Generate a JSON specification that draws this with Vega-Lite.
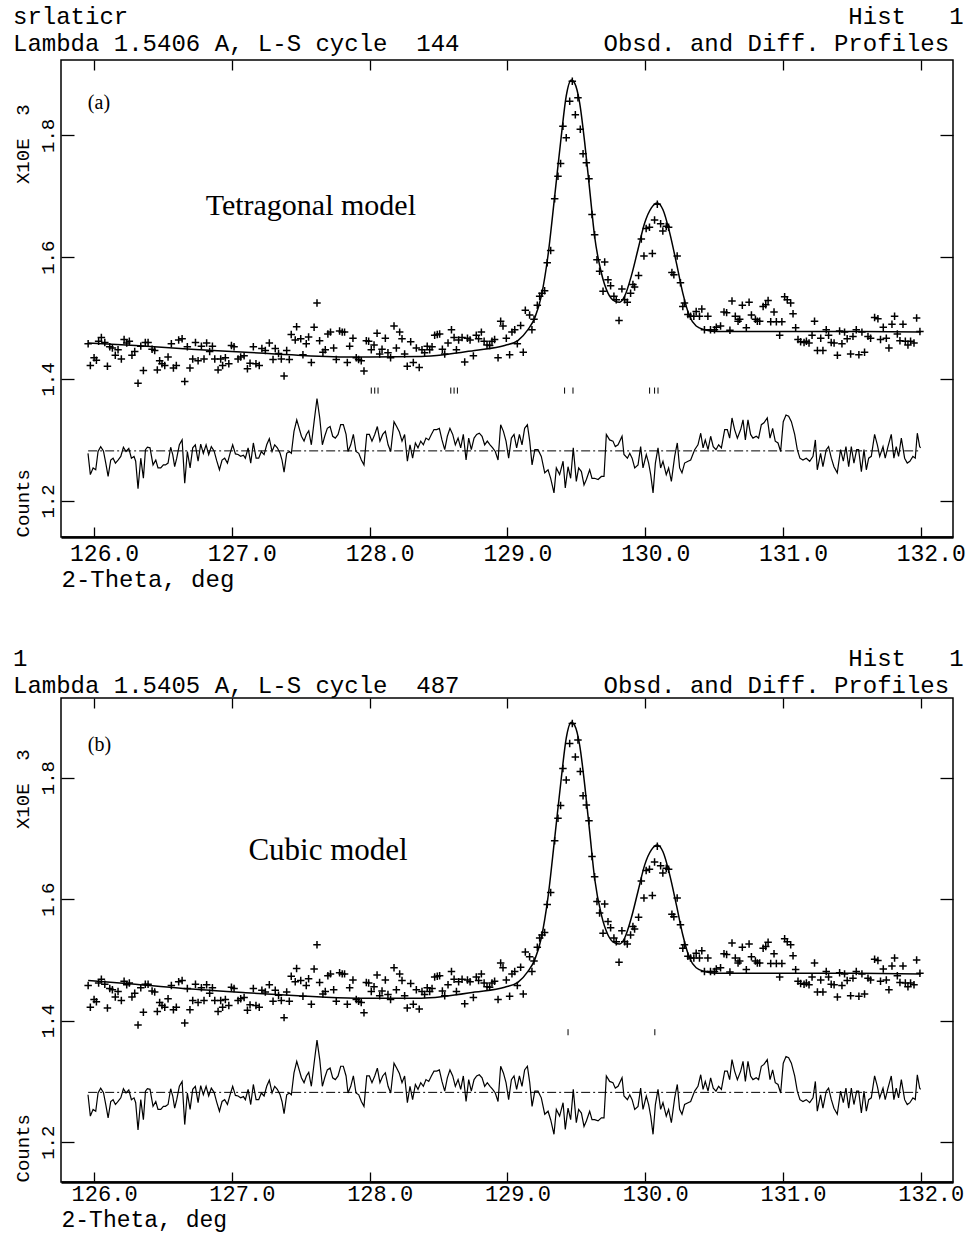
{
"$schema": "https://vega.github.io/schema/vega-lite/v6.json",
"background": "white",
"padding": {"left": 12, "top": 4, "right": 4, "bottom": 0},
"spacing": 54,
"config": {
 "view": {"stroke": "black", "strokeWidth": 1.5},
 "axis": {"grid": false, "domain": false, "tickColor": "black", "tickWidth": 1.3, "labelColor": "black", "titleColor": "black", "labelFont": "Liberation Mono", "titleFont": "Liberation Mono", "titleFontWeight": "normal", "labelFlush": false, "labelOverlap": false},
 "title": {"font": "Liberation Mono", "fontSize": 24, "fontWeight": "normal", "color": "black", "anchor": "start", "frame": "bounds", "lineHeight": 27, "offset": 3}
},
"datasets": {
 "obs": [
{"x":125.957,"y":1.458},{"x":125.973,"y":1.422},{"x":126.000,"y":1.435},{"x":126.017,"y":1.431},{"x":126.033,"y":1.462},{"x":126.053,"y":1.468},{"x":126.078,"y":1.460},{"x":126.097,"y":1.421},{"x":126.114,"y":1.453},{"x":126.133,"y":1.451},{"x":126.154,"y":1.439},{"x":126.174,"y":1.448},{"x":126.198,"y":1.433},{"x":126.218,"y":1.465},{"x":126.237,"y":1.459},{"x":126.256,"y":1.462},{"x":126.275,"y":1.439},{"x":126.295,"y":1.445},{"x":126.319,"y":1.393},{"x":126.339,"y":1.454},{"x":126.358,"y":1.414},{"x":126.372,"y":1.460},{"x":126.392,"y":1.460},{"x":126.421,"y":1.449},{"x":126.440,"y":1.447},{"x":126.459,"y":1.415},{"x":126.476,"y":1.430},{"x":126.493,"y":1.425},{"x":126.513,"y":1.422},{"x":126.537,"y":1.436},{"x":126.561,"y":1.458},{"x":126.576,"y":1.418},{"x":126.597,"y":1.422},{"x":126.614,"y":1.464},{"x":126.639,"y":1.466},{"x":126.658,"y":1.396},{"x":126.677,"y":1.453},{"x":126.696,"y":1.418},{"x":126.716,"y":1.433},{"x":126.736,"y":1.460},{"x":126.755,"y":1.430},{"x":126.779,"y":1.454},{"x":126.798,"y":1.433},{"x":126.817,"y":1.459},{"x":126.839,"y":1.445},{"x":126.859,"y":1.454},{"x":126.876,"y":1.433},{"x":126.900,"y":1.415},{"x":126.919,"y":1.433},{"x":126.933,"y":1.422},{"x":126.953,"y":1.435},{"x":126.978,"y":1.425},{"x":126.997,"y":1.455},{"x":127.016,"y":1.453},{"x":127.045,"y":1.433},{"x":127.064,"y":1.436},{"x":127.089,"y":1.438},{"x":127.113,"y":1.417},{"x":127.132,"y":1.426},{"x":127.156,"y":1.453},{"x":127.175,"y":1.425},{"x":127.199,"y":1.422},{"x":127.218,"y":1.450},{"x":127.243,"y":1.447},{"x":127.272,"y":1.459},{"x":127.299,"y":1.432},{"x":127.315,"y":1.450},{"x":127.339,"y":1.442},{"x":127.359,"y":1.433},{"x":127.379,"y":1.405},{"x":127.398,"y":1.447},{"x":127.417,"y":1.432},{"x":127.431,"y":1.473},{"x":127.460,"y":1.464},{"x":127.470,"y":1.486},
{"x":127.500,"y":1.466},{"x":127.516,"y":1.440},{"x":127.540,"y":1.458},{"x":127.557,"y":1.469},{"x":127.577,"y":1.427},{"x":127.597,"y":1.485},{"x":127.618,"y":1.525},{"x":127.637,"y":1.463},{"x":127.661,"y":1.444},{"x":127.678,"y":1.448},{"x":127.697,"y":1.474},{"x":127.716,"y":1.477},{"x":127.739,"y":1.451},{"x":127.758,"y":1.432},{"x":127.782,"y":1.479},{"x":127.801,"y":1.477},{"x":127.818,"y":1.477},{"x":127.838,"y":1.427},{"x":127.855,"y":1.454},{"x":127.879,"y":1.467},{"x":127.903,"y":1.435},{"x":127.920,"y":1.432},{"x":127.939,"y":1.430},{"x":127.959,"y":1.413},{"x":127.976,"y":1.463},{"x":127.993,"y":1.462},{"x":128.012,"y":1.448},{"x":128.032,"y":1.456},{"x":128.054,"y":1.475},{"x":128.073,"y":1.441},{"x":128.090,"y":1.449},{"x":128.114,"y":1.467},{"x":128.133,"y":1.443},{"x":128.152,"y":1.435},{"x":128.177,"y":1.487},{"x":128.194,"y":1.451},{"x":128.218,"y":1.477},{"x":128.235,"y":1.466},{"x":128.254,"y":1.441},{"x":128.273,"y":1.421},{"x":128.298,"y":1.461},{"x":128.317,"y":1.427},{"x":128.339,"y":1.451},{"x":128.360,"y":1.419},{"x":128.380,"y":1.448},{"x":128.399,"y":1.443},{"x":128.418,"y":1.454},{"x":128.436,"y":1.448},{"x":128.453,"y":1.453},{"x":128.472,"y":1.472},{"x":128.491,"y":1.473},{"x":128.508,"y":1.474},{"x":128.528,"y":1.449},{"x":128.545,"y":1.441},{"x":128.569,"y":1.459},{"x":128.594,"y":1.481},{"x":128.613,"y":1.468},{"x":128.630,"y":1.448},{"x":128.646,"y":1.464},{"x":128.671,"y":1.468},{"x":128.690,"y":1.428},{"x":128.710,"y":1.467},{"x":128.729,"y":1.464},{"x":128.753,"y":1.438},{"x":128.774,"y":1.472},{"x":128.791,"y":1.466},{"x":128.811,"y":1.477},{"x":128.831,"y":1.462},{"x":128.852,"y":1.456},{"x":128.871,"y":1.455},{"x":128.888,"y":1.462},{"x":128.907,"y":1.465},{"x":128.932,"y":1.435},{"x":128.951,"y":1.495},{"x":128.968,"y":1.487},{"x":128.992,"y":1.467},{"x":129.016,"y":1.440},{"x":129.033,"y":1.477},{"x":129.053,"y":1.481},{"x":129.072,"y":1.458},{"x":129.096,"y":1.488},{"x":129.115,"y":1.444},{"x":129.130,"y":1.513},
{"x":129.161,"y":1.505},{"x":129.178,"y":1.481},{"x":129.193,"y":1.498},{"x":129.217,"y":1.521},{"x":129.234,"y":1.536},{"x":129.251,"y":1.541},{"x":129.270,"y":1.545},{"x":129.289,"y":1.591},{"x":129.314,"y":1.611},{"x":129.343,"y":1.696},{"x":129.367,"y":1.733},{"x":129.386,"y":1.754},{"x":129.403,"y":1.815},{"x":129.427,"y":1.796},{"x":129.452,"y":1.856},{"x":129.471,"y":1.889},{"x":129.493,"y":1.834},{"x":129.512,"y":1.862},{"x":129.529,"y":1.810},{"x":129.549,"y":1.770},{"x":129.573,"y":1.755},{"x":129.592,"y":1.729},{"x":129.614,"y":1.670},{"x":129.633,"y":1.637},{"x":129.650,"y":1.596},{"x":129.669,"y":1.577},{"x":129.694,"y":1.544},{"x":129.706,"y":1.592},{"x":129.730,"y":1.563},{"x":129.749,"y":1.553},{"x":129.773,"y":1.536},{"x":129.790,"y":1.530},{"x":129.810,"y":1.496},{"x":129.831,"y":1.548},{"x":129.851,"y":1.530},{"x":129.870,"y":1.526},{"x":129.894,"y":1.541},{"x":129.911,"y":1.555},{"x":129.923,"y":1.551},{"x":129.952,"y":1.570},{"x":129.972,"y":1.630},{"x":129.991,"y":1.602},{"x":130.007,"y":1.647},{"x":130.031,"y":1.649},{"x":130.052,"y":1.606},{"x":130.068,"y":1.661},{"x":130.088,"y":1.687},{"x":130.112,"y":1.655},{"x":130.128,"y":1.643},{"x":130.153,"y":1.651},{"x":130.170,"y":1.649},{"x":130.194,"y":1.575},{"x":130.208,"y":1.571},{"x":130.232,"y":1.602},{"x":130.256,"y":1.558},{"x":130.273,"y":1.519},{"x":130.285,"y":1.525},{"x":130.310,"y":1.506},{"x":130.329,"y":1.503},{"x":130.353,"y":1.503},{"x":130.370,"y":1.511},{"x":130.394,"y":1.503},{"x":130.411,"y":1.515},{"x":130.430,"y":1.481},{"x":130.455,"y":1.503},{"x":130.474,"y":1.481},{"x":130.503,"y":1.481},
{"x":130.516,"y":1.485},{"x":130.547,"y":1.487},{"x":130.572,"y":1.510},{"x":130.591,"y":1.509},{"x":130.615,"y":1.480},{"x":130.630,"y":1.528},{"x":130.654,"y":1.503},{"x":130.674,"y":1.495},{"x":130.686,"y":1.498},{"x":130.705,"y":1.521},{"x":130.734,"y":1.484},{"x":130.754,"y":1.526},{"x":130.771,"y":1.505},{"x":130.800,"y":1.498},{"x":130.814,"y":1.495},{"x":130.831,"y":1.495},{"x":130.856,"y":1.519},{"x":130.875,"y":1.522},{"x":130.892,"y":1.529},{"x":130.911,"y":1.494},{"x":130.935,"y":1.510},{"x":130.952,"y":1.494},{"x":130.976,"y":1.472},{"x":130.992,"y":1.494},{"x":131.012,"y":1.535},{"x":131.031,"y":1.530},{"x":131.056,"y":1.525},{"x":131.073,"y":1.507},{"x":131.092,"y":1.484},{"x":131.109,"y":1.465},{"x":131.128,"y":1.461},{"x":131.153,"y":1.460},{"x":131.170,"y":1.462},{"x":131.189,"y":1.459},{"x":131.211,"y":1.472},{"x":131.229,"y":1.495},{"x":131.250,"y":1.447},{"x":131.274,"y":1.467},{"x":131.290,"y":1.447},{"x":131.314,"y":1.481},{"x":131.331,"y":1.472},{"x":131.350,"y":1.460},{"x":131.371,"y":1.459},{"x":131.395,"y":1.439},{"x":131.411,"y":1.479},{"x":131.428,"y":1.458},{"x":131.447,"y":1.477},{"x":131.466,"y":1.466},{"x":131.491,"y":1.441},{"x":131.508,"y":1.470},{"x":131.532,"y":1.481},{"x":131.551,"y":1.440},{"x":131.573,"y":1.477},{"x":131.592,"y":1.444},{"x":131.617,"y":1.470},{"x":131.636,"y":1.467},{"x":131.665,"y":1.501},{"x":131.689,"y":1.499},{"x":131.708,"y":1.465},{"x":131.728,"y":1.485},{"x":131.750,"y":1.467},{"x":131.769,"y":1.451},{"x":131.791,"y":1.490},{"x":131.810,"y":1.503},{"x":131.830,"y":1.474},{"x":131.849,"y":1.463},{"x":131.871,"y":1.490},{"x":131.888,"y":1.462},{"x":131.907,"y":1.456},{"x":131.926,"y":1.462},{"x":131.951,"y":1.459},{"x":131.970,"y":1.500},{"x":131.994,"y":1.478}
 ],
 "calcA": [
{"x":125.957,"y":1.459},{"x":126.3,"y":1.455},{"x":126.705,"y":1.449},{"x":127.1,"y":1.444},{"x":127.48,"y":1.439},{"x":127.9,"y":1.436},{"x":128.376,"y":1.437},{"x":128.545,"y":1.440},{"x":128.762,"y":1.447},{"x":128.98,"y":1.455},{"x":129.076,"y":1.463},{"x":129.149,"y":1.481},{"x":129.198,"y":1.500},{"x":129.246,"y":1.536},{"x":129.294,"y":1.602},{"x":129.343,"y":1.700},{"x":129.391,"y":1.799},{"x":129.427,"y":1.865},{"x":129.464,"y":1.891},{"x":129.488,"y":1.886},{"x":129.524,"y":1.854},{"x":129.561,"y":1.788},{"x":129.597,"y":1.711},{"x":129.633,"y":1.634},{"x":129.682,"y":1.574},{"x":129.730,"y":1.541},{"x":129.778,"y":1.528},{"x":129.815,"y":1.526},{"x":129.851,"y":1.536},{"x":129.899,"y":1.569},{"x":129.948,"y":1.613},{"x":129.996,"y":1.656},{"x":130.045,"y":1.681},{"x":130.088,"y":1.689},{"x":130.129,"y":1.678},{"x":130.178,"y":1.640},{"x":130.226,"y":1.591},{"x":130.273,"y":1.541},{"x":130.322,"y":1.503},{"x":130.370,"y":1.487},{"x":130.431,"y":1.481},{"x":130.528,"y":1.478},{"x":131.0,"y":1.478},{"x":131.5,"y":1.478},{"x":132.0,"y":1.477}
 ],
 "calcB": [
{"x":125.957,"y":1.466},{"x":126.3,"y":1.460},{"x":126.705,"y":1.452},{"x":127.1,"y":1.446},{"x":127.48,"y":1.441},{"x":127.9,"y":1.437},{"x":128.376,"y":1.437},{"x":128.545,"y":1.440},{"x":128.762,"y":1.447},{"x":128.98,"y":1.455},{"x":129.076,"y":1.463},{"x":129.149,"y":1.481},{"x":129.198,"y":1.500},{"x":129.246,"y":1.536},{"x":129.294,"y":1.602},{"x":129.343,"y":1.700},{"x":129.391,"y":1.799},{"x":129.427,"y":1.865},{"x":129.464,"y":1.891},{"x":129.488,"y":1.886},{"x":129.524,"y":1.854},{"x":129.561,"y":1.788},{"x":129.597,"y":1.711},{"x":129.633,"y":1.634},{"x":129.682,"y":1.574},{"x":129.730,"y":1.541},{"x":129.778,"y":1.528},{"x":129.815,"y":1.526},{"x":129.851,"y":1.536},{"x":129.899,"y":1.569},{"x":129.948,"y":1.613},{"x":129.996,"y":1.656},{"x":130.045,"y":1.681},{"x":130.088,"y":1.689},{"x":130.129,"y":1.678},{"x":130.178,"y":1.640},{"x":130.226,"y":1.591},{"x":130.273,"y":1.541},{"x":130.322,"y":1.503},{"x":130.370,"y":1.487},{"x":130.431,"y":1.481},{"x":130.528,"y":1.478},{"x":131.0,"y":1.478},{"x":131.5,"y":1.478},{"x":132.0,"y":1.477}
 ],
 "diffA": [
{"x":125.956,"y":1.278},{"x":125.973,"y":1.243},{"x":125.993,"y":1.254},{"x":126.012,"y":1.251},{"x":126.029,"y":1.281},{"x":126.048,"y":1.289},{"x":126.068,"y":1.282},{"x":126.085,"y":1.262},{"x":126.102,"y":1.240},{"x":126.121,"y":1.267},{"x":126.138,"y":1.270},{"x":126.155,"y":1.262},{"x":126.174,"y":1.267},{"x":126.194,"y":1.273},{"x":126.213,"y":1.288},{"x":126.232,"y":1.281},{"x":126.252,"y":1.286},{"x":126.271,"y":1.270},{"x":126.290,"y":1.273},{"x":126.302,"y":1.265},{"x":126.319,"y":1.220},{"x":126.339,"y":1.270},{"x":126.358,"y":1.237},{"x":126.373,"y":1.284},{"x":126.387,"y":1.288},{"x":126.406,"y":1.287},{"x":126.428,"y":1.259},{"x":126.448,"y":1.267},{"x":126.464,"y":1.254},{"x":126.484,"y":1.254},{"x":126.503,"y":1.259},{"x":126.518,"y":1.259},{"x":126.537,"y":1.262},{"x":126.556,"y":1.288},{"x":126.571,"y":1.276},{"x":126.585,"y":1.256},{"x":126.600,"y":1.270},{"x":126.619,"y":1.292},{"x":126.639,"y":1.300},{"x":126.658,"y":1.229},{"x":126.677,"y":1.281},{"x":126.697,"y":1.254},{"x":126.716,"y":1.287},{"x":126.735,"y":1.292},{"x":126.755,"y":1.265},{"x":126.774,"y":1.293},{"x":126.793,"y":1.278},{"x":126.813,"y":1.292},{"x":126.832,"y":1.276},{"x":126.851,"y":1.289},{"x":126.871,"y":1.282},{"x":126.890,"y":1.266},{"x":126.910,"y":1.251},{"x":126.929,"y":1.267},{"x":126.948,"y":1.270},{"x":126.968,"y":1.262},{"x":126.987,"y":1.278},{"x":127.006,"y":1.292},{"x":127.026,"y":1.277},{"x":127.045,"y":1.276},{"x":127.064,"y":1.273},{"x":127.084,"y":1.275},{"x":127.098,"y":1.270},{"x":127.118,"y":1.287},{"x":127.137,"y":1.262},{"x":127.156,"y":1.295},{"x":127.176,"y":1.270},{"x":127.195,"y":1.270},{"x":127.214,"y":1.281},{"x":127.234,"y":1.276},{"x":127.253,"y":1.292},{"x":127.272,"y":1.302},{"x":127.292,"y":1.281},{"x":127.311,"y":1.292},{"x":127.330,"y":1.287},{"x":127.350,"y":1.278},{"x":127.364,"y":1.267},{"x":127.379,"y":1.247},{"x":127.398,"y":1.278},{"x":127.418,"y":1.281},{"x":127.432,"y":1.278},{"x":127.451,"y":1.314},{"x":127.471,"y":1.333},
{"x":127.505,"y":1.306},{"x":127.524,"y":1.298},{"x":127.541,"y":1.309},{"x":127.558,"y":1.315},{"x":127.577,"y":1.292},{"x":127.597,"y":1.330},{"x":127.618,"y":1.368},{"x":127.638,"y":1.336},{"x":127.657,"y":1.292},{"x":127.674,"y":1.306},{"x":127.693,"y":1.319},{"x":127.713,"y":1.322},{"x":127.732,"y":1.306},{"x":127.751,"y":1.303},{"x":127.771,"y":1.309},{"x":127.790,"y":1.325},{"x":127.809,"y":1.325},{"x":127.829,"y":1.309},{"x":127.843,"y":1.281},{"x":127.863,"y":1.292},{"x":127.882,"y":1.309},{"x":127.901,"y":1.281},{"x":127.921,"y":1.278},{"x":127.940,"y":1.267},{"x":127.959,"y":1.259},{"x":127.979,"y":1.309},{"x":127.998,"y":1.309},{"x":128.017,"y":1.298},{"x":128.037,"y":1.309},{"x":128.056,"y":1.322},{"x":128.075,"y":1.298},{"x":128.095,"y":1.309},{"x":128.114,"y":1.314},{"x":128.134,"y":1.292},{"x":128.153,"y":1.281},{"x":128.177,"y":1.330},{"x":128.196,"y":1.322},{"x":128.216,"y":1.313},{"x":128.235,"y":1.298},{"x":128.254,"y":1.309},{"x":128.274,"y":1.265},{"x":128.293,"y":1.292},{"x":128.312,"y":1.270},{"x":128.332,"y":1.295},{"x":128.351,"y":1.287},{"x":128.371,"y":1.298},{"x":128.390,"y":1.292},{"x":128.409,"y":1.303},{"x":128.429,"y":1.300},{"x":128.448,"y":1.309},{"x":128.467,"y":1.317},{"x":128.487,"y":1.317},{"x":128.506,"y":1.319},{"x":128.525,"y":1.300},{"x":128.545,"y":1.284},{"x":128.564,"y":1.306},{"x":128.583,"y":1.319},{"x":128.603,"y":1.309},{"x":128.622,"y":1.292},{"x":128.642,"y":1.303},{"x":128.661,"y":1.287},{"x":128.680,"y":1.309},{"x":128.700,"y":1.267},{"x":128.719,"y":1.303},{"x":128.738,"y":1.284},{"x":128.758,"y":1.303},{"x":128.777,"y":1.309},{"x":128.796,"y":1.311},{"x":128.816,"y":1.306},{"x":128.835,"y":1.292},{"x":128.854,"y":1.298},{"x":128.874,"y":1.292},{"x":128.893,"y":1.287},{"x":128.912,"y":1.281},{"x":128.932,"y":1.267},{"x":128.951,"y":1.325},{"x":128.971,"y":1.314},{"x":128.990,"y":1.298},{"x":129.009,"y":1.270},{"x":129.029,"y":1.303},{"x":129.048,"y":1.309},{"x":129.067,"y":1.287},{"x":129.087,"y":1.309},{"x":129.106,"y":1.292},{"x":129.125,"y":1.319},{"x":129.145,"y":1.325},
{"x":129.162,"y":1.298},{"x":129.179,"y":1.259},{"x":129.199,"y":1.284},{"x":129.222,"y":1.284},{"x":129.246,"y":1.273},{"x":129.271,"y":1.246},{"x":129.295,"y":1.251},{"x":129.314,"y":1.237},{"x":129.338,"y":1.213},{"x":129.355,"y":1.254},{"x":129.379,"y":1.243},{"x":129.404,"y":1.265},{"x":129.420,"y":1.221},{"x":129.440,"y":1.256},{"x":129.459,"y":1.237},{"x":129.478,"y":1.287},{"x":129.500,"y":1.232},{"x":129.517,"y":1.254},{"x":129.537,"y":1.248},{"x":129.556,"y":1.226},{"x":129.573,"y":1.235},{"x":129.597,"y":1.251},{"x":129.614,"y":1.237},{"x":129.633,"y":1.237},{"x":129.658,"y":1.235},{"x":129.682,"y":1.240},{"x":129.701,"y":1.240},{"x":129.718,"y":1.309},{"x":129.742,"y":1.300},{"x":129.766,"y":1.298},{"x":129.783,"y":1.289},{"x":129.803,"y":1.292},{"x":129.832,"y":1.306},{"x":129.846,"y":1.276},{"x":129.871,"y":1.270},{"x":129.888,"y":1.278},{"x":129.905,"y":1.270},{"x":129.924,"y":1.254},{"x":129.948,"y":1.259},{"x":129.967,"y":1.289},{"x":129.984,"y":1.254},{"x":130.008,"y":1.276},{"x":130.025,"y":1.262},{"x":130.040,"y":1.243},{"x":130.057,"y":1.213},{"x":130.074,"y":1.262},{"x":130.093,"y":1.287},{"x":130.112,"y":1.254},{"x":130.129,"y":1.265},{"x":130.153,"y":1.243},{"x":130.170,"y":1.254},{"x":130.190,"y":1.232},{"x":130.214,"y":1.273},{"x":130.233,"y":1.295},{"x":130.250,"y":1.254},{"x":130.267,"y":1.246},{"x":130.286,"y":1.262},{"x":130.311,"y":1.265},{"x":130.330,"y":1.267},{"x":130.359,"y":1.284},{"x":130.383,"y":1.292},{"x":130.403,"y":1.311},{"x":130.420,"y":1.287},{"x":130.436,"y":1.300},{"x":130.456,"y":1.284},{"x":130.475,"y":1.306},{"x":130.494,"y":1.289},{"x":130.514,"y":1.284},{"x":130.533,"y":1.292},{"x":130.553,"y":1.287},{"x":130.577,"y":1.317},{"x":130.596,"y":1.317},{"x":130.613,"y":1.303},{"x":130.630,"y":1.336},{"x":130.649,"y":1.317},{"x":130.669,"y":1.303},{"x":130.693,"y":1.317},{"x":130.710,"y":1.333},{"x":130.727,"y":1.300},{"x":130.746,"y":1.333},{"x":130.765,"y":1.309},{"x":130.782,"y":1.303},{"x":130.806,"y":1.306},{"x":130.823,"y":1.303},{"x":130.843,"y":1.325},{"x":130.862,"y":1.328},{"x":130.886,"y":1.336},{"x":130.906,"y":1.303},{"x":130.925,"y":1.319},{"x":130.944,"y":1.298},{"x":130.964,"y":1.295},{"x":130.983,"y":1.281},{"x":131.002,"y":1.330},{"x":131.022,"y":1.341},{"x":131.041,"y":1.339},{"x":131.061,"y":1.330},{"x":131.085,"y":1.309},{"x":131.104,"y":1.284},{"x":131.123,"y":1.270},{"x":131.145,"y":1.267},{"x":131.169,"y":1.270},{"x":131.194,"y":1.265},{"x":131.218,"y":1.273},{"x":131.235,"y":1.300},{"x":131.249,"y":1.251},{"x":131.273,"y":1.278},{"x":131.290,"y":1.256},{"x":131.314,"y":1.284},{"x":131.331,"y":1.289},{"x":131.351,"y":1.270},{"x":131.370,"y":1.256},{"x":131.394,"y":1.246},{"x":131.418,"y":1.284},{"x":131.438,"y":1.265},{"x":131.457,"y":1.289},{"x":131.477,"y":1.256},{"x":131.496,"y":1.289},{"x":131.515,"y":1.262},{"x":131.535,"y":1.284},{"x":131.549,"y":1.284},{"x":131.569,"y":1.248},{"x":131.588,"y":1.284},{"x":131.605,"y":1.251},{"x":131.622,"y":1.270},{"x":131.641,"y":1.273},{"x":131.665,"y":1.309},{"x":131.685,"y":1.292},{"x":131.702,"y":1.273},{"x":131.726,"y":1.289},{"x":131.742,"y":1.270},{"x":131.762,"y":1.289},{"x":131.786,"y":1.309},{"x":131.805,"y":1.270},{"x":131.822,"y":1.289},{"x":131.839,"y":1.273},{"x":131.859,"y":1.303},{"x":131.883,"y":1.270},{"x":131.902,"y":1.262},{"x":131.921,"y":1.265},{"x":131.943,"y":1.273},{"x":131.960,"y":1.270},{"x":131.975,"y":1.311},{"x":131.992,"y":1.289},{"x":131.999,"y":1.287}
 ],
 "reflA": [{"x":128.012},{"x":128.037},{"x":128.061},{"x":128.589},{"x":128.613},{"x":128.637},{"x":129.415},{"x":129.476},{"x":130.032},{"x":130.068},{"x":130.093}],
 "reflB": [{"x":129.440},{"x":130.070}]
},
"vconcat": [
 {
  "width": 892, "height": 477,
  "title": {"text": ["srlaticr\u00a0\u00a0\u00a0\u00a0\u00a0\u00a0\u00a0\u00a0\u00a0\u00a0\u00a0\u00a0\u00a0\u00a0\u00a0\u00a0\u00a0\u00a0\u00a0\u00a0\u00a0\u00a0\u00a0\u00a0\u00a0\u00a0\u00a0\u00a0\u00a0\u00a0\u00a0\u00a0\u00a0\u00a0\u00a0\u00a0\u00a0\u00a0\u00a0\u00a0\u00a0\u00a0\u00a0\u00a0\u00a0\u00a0\u00a0\u00a0\u00a0\u00a0Hist\u00a0\u00a0\u00a01", "Lambda\u00a01.5406\u00a0A,\u00a0L-S\u00a0cycle\u00a0\u00a0144\u00a0\u00a0\u00a0\u00a0\u00a0\u00a0\u00a0\u00a0\u00a0\u00a0Obsd.\u00a0and\u00a0Diff.\u00a0Profiles"]},
  "resolve": {"axis": {"x": "independent", "y": "independent"}},
  "layer": [
   {"data": {"name": "obs"},
    "mark": {"type": "point", "shape": "M-1,0L1,0M0,-1L0,1", "filled": false, "stroke": "black", "strokeWidth": 1.5, "size": 56, "opacity": 1},
    "encoding": {
     "x": {"field": "x", "type": "quantitative", "scale": {"domain": [125.76, 132.234], "nice": false, "zero": false},
       "axis": {"orient": "bottom", "values": [126,127,128,129,130,131,132], "format": ".1f", "tickSize": -10, "labelFontSize": 23, "labelPadding": 15, "labelOffset": 10, "domain": true, "domainColor": "black", "domainWidth": 2.5, "title": "2-Theta, deg", "titleFontSize": 24, "titleAnchor": "start", "titlePadding": 2}},
     "y": {"field": "y", "type": "quantitative", "scale": {"domain": [1.1406, 1.9238], "nice": false, "zero": false},
       "axis": {"orient": "left", "values": [1.2,1.4,1.6,1.8], "format": ".1f", "tickSize": -13, "labelFontSize": 19, "labelAngle": 270, "labelAlign": "center", "labelBaseline": "alphabetic", "labelPadding": 21, "title": "Counts\u00a0\u00a0\u00a0\u00a0\u00a0\u00a0\u00a0\u00a0\u00a0\u00a0\u00a0\u00a0\u00a0\u00a0\u00a0\u00a0\u00a0\u00a0\u00a0\u00a0\u00a0\u00a0\u00a0\u00a0\u00a0X10E\u00a0\u00a03", "titleFontSize": 19, "titleAnchor": "start", "titleAngle": 270, "titleBaseline": "alphabetic", "titlePadding": 10}}
    }},
   {"data": {"name": "calcA"},
    "mark": {"type": "line", "stroke": "black", "strokeWidth": 1.5, "interpolate": "monotone"},
    "encoding": {
     "x": {"field": "x", "type": "quantitative", "axis": {"orient": "top", "values": [126,127,128,129,130,131,132], "labels": false, "tickSize": -10, "title": null}},
     "y": {"field": "y", "type": "quantitative", "axis": {"orient": "right", "values": [1.2,1.4,1.6,1.8], "labels": false, "tickSize": -13, "title": null}}
    }},
   {"data": {"name": "diffA"},
    "mark": {"type": "line", "stroke": "black", "strokeWidth": 1.2},
    "encoding": {"x": {"field": "x", "type": "quantitative", "axis": null}, "y": {"field": "y", "type": "quantitative", "axis": null}}},
   {"data": {"values": [{}]},
    "mark": {"type": "rule", "stroke": "black", "strokeWidth": 1, "strokeDash": [9, 3, 2, 3]},
    "encoding": {"x": {"datum": 125.957, "type": "quantitative", "axis": null}, "x2": {"datum": 132.0}, "y": {"datum": 1.282, "type": "quantitative", "axis": null}}},
   {"data": {"name": "reflA"},
    "mark": {"type": "rule", "stroke": "black", "strokeWidth": 1},
    "encoding": {"x": {"field": "x", "type": "quantitative", "axis": null}, "y": {"datum": 1.386, "type": "quantitative", "axis": null}, "y2": {"datum": 1.376}}},
   {"data": {"values": [{}]},
    "mark": {"type": "text", "font": "Liberation Serif", "fontSize": 20, "align": "left", "baseline": "middle", "color": "black"},
    "encoding": {"x": {"datum": 125.955, "type": "quantitative", "axis": null}, "y": {"datum": 1.854, "type": "quantitative", "axis": null}, "text": {"value": "(a)"}}},
   {"data": {"values": [{}]},
    "mark": {"type": "text", "font": "Liberation Serif", "fontSize": 30, "align": "left", "baseline": "middle", "color": "black"},
    "encoding": {"x": {"datum": 126.81, "type": "quantitative", "axis": null}, "y": {"datum": 1.684, "type": "quantitative", "axis": null}, "text": {"value": "Tetragonal model"}}}
  ]
 },
 {
  "width": 892, "height": 484,
  "title": {"text": ["1\u00a0\u00a0\u00a0\u00a0\u00a0\u00a0\u00a0\u00a0\u00a0\u00a0\u00a0\u00a0\u00a0\u00a0\u00a0\u00a0\u00a0\u00a0\u00a0\u00a0\u00a0\u00a0\u00a0\u00a0\u00a0\u00a0\u00a0\u00a0\u00a0\u00a0\u00a0\u00a0\u00a0\u00a0\u00a0\u00a0\u00a0\u00a0\u00a0\u00a0\u00a0\u00a0\u00a0\u00a0\u00a0\u00a0\u00a0\u00a0\u00a0\u00a0\u00a0\u00a0\u00a0\u00a0\u00a0\u00a0\u00a0Hist\u00a0\u00a0\u00a01", "Lambda\u00a01.5405\u00a0A,\u00a0L-S\u00a0cycle\u00a0\u00a0487\u00a0\u00a0\u00a0\u00a0\u00a0\u00a0\u00a0\u00a0\u00a0\u00a0Obsd.\u00a0and\u00a0Diff.\u00a0Profiles"], "offset": -1},
  "resolve": {"axis": {"x": "independent", "y": "independent"}},
  "layer": [
   {"data": {"name": "obs"},
    "mark": {"type": "point", "shape": "M-1,0L1,0M0,-1L0,1", "filled": false, "stroke": "black", "strokeWidth": 1.5, "size": 56, "opacity": 1},
    "encoding": {
     "x": {"field": "x", "type": "quantitative", "scale": {"domain": [125.76, 132.234], "nice": false, "zero": false},
       "axis": {"orient": "bottom", "values": [126,127,128,129,130,131,132], "format": ".1f", "tickSize": -10, "labelFontSize": 22, "labelPadding": 11, "labelOffset": 10, "domain": true, "domainColor": "black", "domainWidth": 2.5, "title": "2-Theta, deg", "titleFontSize": 23, "titleAnchor": "start", "titlePadding": 4}},
     "y": {"field": "y", "type": "quantitative", "scale": {"domain": [1.1345, 1.931], "nice": false, "zero": false},
       "axis": {"orient": "left", "values": [1.2,1.4,1.6,1.8], "format": ".1f", "tickSize": -13, "labelFontSize": 19, "labelAngle": 270, "labelAlign": "center", "labelBaseline": "alphabetic", "labelPadding": 21, "title": "Counts\u00a0\u00a0\u00a0\u00a0\u00a0\u00a0\u00a0\u00a0\u00a0\u00a0\u00a0\u00a0\u00a0\u00a0\u00a0\u00a0\u00a0\u00a0\u00a0\u00a0\u00a0\u00a0\u00a0\u00a0\u00a0X10E\u00a0\u00a03", "titleFontSize": 19, "titleAnchor": "start", "titleAngle": 270, "titleBaseline": "alphabetic", "titlePadding": 10}}
    }},
   {"data": {"name": "calcB"},
    "mark": {"type": "line", "stroke": "black", "strokeWidth": 1.5, "interpolate": "monotone"},
    "encoding": {
     "x": {"field": "x", "type": "quantitative", "axis": {"orient": "top", "values": [126,127,128,129,130,131,132], "labels": false, "tickSize": -10, "title": null}},
     "y": {"field": "y", "type": "quantitative", "axis": {"orient": "right", "values": [1.2,1.4,1.6,1.8], "labels": false, "tickSize": -13, "title": null}}
    }},
   {"data": {"name": "diffA"},
    "mark": {"type": "line", "stroke": "black", "strokeWidth": 1.2},
    "encoding": {"x": {"field": "x", "type": "quantitative", "axis": null}, "y": {"field": "y", "type": "quantitative", "axis": null}}},
   {"data": {"values": [{}]},
    "mark": {"type": "rule", "stroke": "black", "strokeWidth": 1, "strokeDash": [9, 3, 2, 3]},
    "encoding": {"x": {"datum": 125.957, "type": "quantitative", "axis": null}, "x2": {"datum": 132.0}, "y": {"datum": 1.282, "type": "quantitative", "axis": null}}},
   {"data": {"name": "reflB"},
    "mark": {"type": "rule", "stroke": "black", "strokeWidth": 1},
    "encoding": {"x": {"field": "x", "type": "quantitative", "axis": null}, "y": {"datum": 1.386, "type": "quantitative", "axis": null}, "y2": {"datum": 1.376}}},
   {"data": {"values": [{}]},
    "mark": {"type": "text", "font": "Liberation Serif", "fontSize": 20, "align": "left", "baseline": "middle", "color": "black"},
    "encoding": {"x": {"datum": 125.955, "type": "quantitative", "axis": null}, "y": {"datum": 1.854, "type": "quantitative", "axis": null}, "text": {"value": "(b)"}}},
   {"data": {"values": [{}]},
    "mark": {"type": "text", "font": "Liberation Serif", "fontSize": 31, "align": "left", "baseline": "middle", "color": "black"},
    "encoding": {"x": {"datum": 127.12, "type": "quantitative", "axis": null}, "y": {"datum": 1.68, "type": "quantitative", "axis": null}, "text": {"value": "Cubic model"}}}
  ]
 }
]
}
